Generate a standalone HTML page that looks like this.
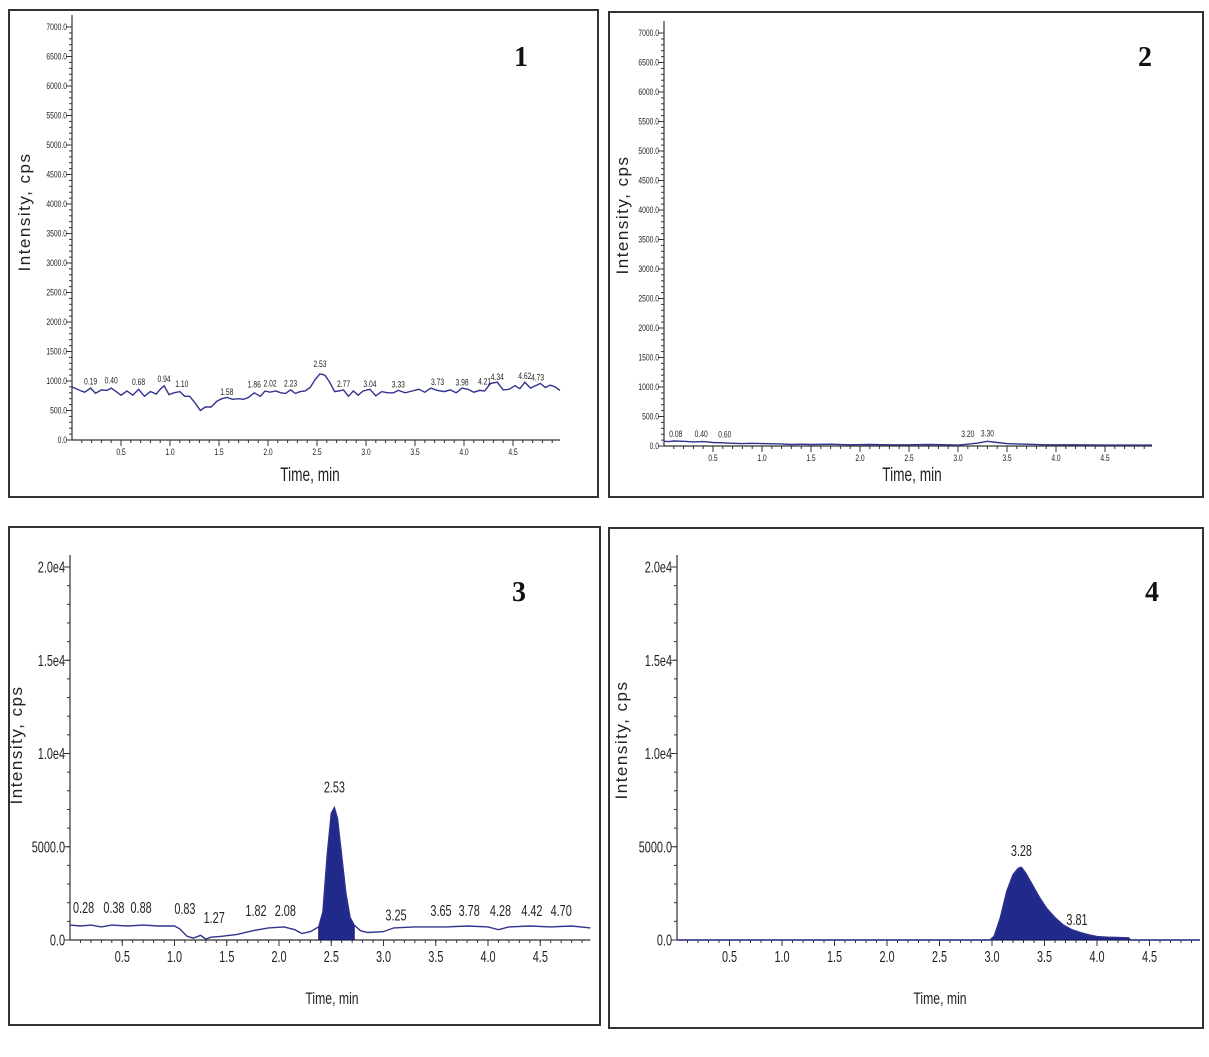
<!DOCTYPE html>
<html><head><meta charset="utf-8">
<style>
html,body{margin:0;padding:0;background:#fff;}
svg{display:block;}
text{font-family:"Liberation Sans",sans-serif;fill:#222;}
.num{font-family:"Liberation Serif",serif;font-weight:bold;fill:#111;}
</style></head>
<body>
<svg id="fig" width="1209" height="1057" viewBox="0 0 1209 1057" xmlns="http://www.w3.org/2000/svg"></svg>
<script>
// ---- Panel 1 data ----
const p1Times = [0,0.08,0.13,0.19,0.24,0.30,0.36,0.40,0.45,0.50,0.56,0.62,0.68,0.74,0.80,0.86,0.90,0.94,0.99,1.04,1.10,1.15,1.20,1.25,1.31,1.36,1.42,1.48,1.53,1.58,1.64,1.70,1.75,1.80,1.86,1.92,1.97,2.02,2.08,2.13,2.18,2.23,2.28,2.33,2.38,2.43,2.48,2.53,2.58,2.63,2.68,2.72,2.77,2.82,2.87,2.92,2.97,3.04,3.10,3.16,3.22,3.28,3.33,3.40,3.47,3.54,3.60,3.66,3.73,3.80,3.86,3.92,3.98,4.04,4.10,4.16,4.21,4.27,4.34,4.40,4.46,4.52,4.57,4.62,4.68,4.73,4.78,4.83,4.88,4.93,4.98];
const p1Values = [900,840,810,880,790,850,840,880,820,760,830,760,860,740,820,780,860,920,770,800,820,740,740,640,500,560,560,660,700,720,690,700,690,720,800,740,830,810,830,800,790,850,790,820,830,890,1020,1120,1100,980,820,830,850,740,830,760,830,860,750,820,800,800,840,800,830,860,810,880,840,820,850,800,880,860,810,840,830,960,980,850,860,920,870,980,880,920,960,890,930,900,840];
const p1Labels = ["0.19","0.40","0.68","0.94","1.10","1.58","1.86","2.02","2.23","2.53","2.77","3.04","3.33","3.73","3.98","4.21","4.34","4.62","4.73"];
const p1LabelT = [0.19,0.40,0.68,0.94,1.12,1.58,1.86,2.02,2.23,2.53,2.77,3.04,3.33,3.73,3.98,4.21,4.34,4.62,4.75];
const p1LabelV = [940,960,930,980,900,760,890,910,910,1240,900,900,890,930,920,940,1020,1030,1010];
const p1YTicks = [0,500,1000,1500,2000,2500,3000,3500,4000,4500,5000,5500,6000,6500,7000];
const p1YTickLabels = ["0.0","500.0","1000.0","1500.0","2000.0","2500.0","3000.0","3500.0","4000.0","4500.0","5000.0","5500.0","6000.0","6500.0","7000.0"];
// ---- Panel 2 data ----
const p2Times = [0,0.05,0.10,0.20,0.30,0.40,0.50,0.60,0.70,0.80,0.90,1.00,1.20,1.30,1.40,1.50,1.70,1.90,2.10,2.30,2.50,2.70,2.90,3.00,3.10,3.20,3.30,3.40,3.50,3.60,3.70,3.90,4.20,4.50,4.98];
const p2Values = [80,75,85,80,70,75,60,55,45,40,45,40,35,25,30,25,30,20,25,20,20,25,20,15,30,50,80,60,40,35,30,20,20,15,15];
const p2Labels = ["0.08","0.40","0.60","3.20","3.30"];
const p2LabelT = [0.12,0.38,0.62,3.10,3.30];
const p2LabelV = [150,150,140,150,160];
const p2YTicks = p1YTicks;
const p2YTickLabels = p1YTickLabels;
// ---- Panel 3 data ----
const p3Times = [0,0.10,0.20,0.30,0.40,0.55,0.70,0.85,1.00,1.05,1.12,1.18,1.25,1.30,1.35,1.45,1.60,1.75,1.90,2.05,2.15,2.22,2.30,2.38,2.42,2.46,2.50,2.53,2.56,2.60,2.64,2.68,2.72,2.78,2.85,3.00,3.10,3.30,3.60,3.80,4.00,4.10,4.20,4.40,4.60,4.80,4.98];
const p3Values = [800,750,800,700,800,750,800,750,750,600,200,100,250,50,150,200,300,500,650,700,550,350,450,700,1500,4500,6800,7100,6500,4500,2500,1200,800,500,400,450,650,700,700,750,700,550,700,750,700,750,650];
const p3Labels = ["0.28","0.38","0.88","0.83","1.27","1.82","2.08","2.53","3.25","3.65","3.78","4.28","4.42","4.70"];
const p3LabelT = [0.13,0.42,0.68,1.10,1.38,1.78,2.06,2.53,3.12,3.55,3.82,4.12,4.42,4.70];
const p3LabelV = [1450,1450,1450,1400,900,1300,1300,7900,1050,1300,1300,1300,1300,1300];
const p3YTicks = [0,5000,10000,15000,20000];
const p3YTickLabels = ["0.0","5000.0","1.0e4","1.5e4","2.0e4"];
// ---- Panel 4 data ----
const p4Times = [0,1.0,2.0,2.98,3.02,3.08,3.14,3.20,3.25,3.28,3.32,3.38,3.45,3.52,3.60,3.68,3.76,3.84,3.92,4.00,4.10,4.30,4.32,4.60,4.98];
const p4Values = [0,0,0,0,200,1200,2600,3500,3850,3900,3600,3000,2300,1700,1200,800,550,400,280,180,150,120,0,0,0];
const p4Labels = ["3.28","3.81"];
const p4LabelT = [3.28,3.81];
const p4LabelV = [4500,800];
const p4YTicks = p3YTicks;
const p4YTickLabels = p3YTickLabels;
const xTicks = [0.5,1.0,1.5,2.0,2.5,3.0,3.5,4.0,4.5];
const xTickLabels = ["0.5","1.0","1.5","2.0","2.5","3.0","3.5","4.0","4.5"];

const NS = "http://www.w3.org/2000/svg";
const svg = document.getElementById('fig');
function mk(tag, attrs, parent, txt){
  const e = document.createElementNS(NS, tag);
  for (const k in attrs) e.setAttribute(k, attrs[k]);
  if (txt !== undefined) e.textContent = txt;
  (parent||svg).appendChild(e);
  return e;
}
function ctext(parent, x, y, size, anchor, txt, sx){
  return mk('text', {x:0, y:0, 'font-size':size, 'text-anchor':anchor, transform:`translate(${x.toFixed(1)},${y.toFixed(1)}) scale(${sx},1)`}, parent, txt);
}

function panel(cfg){
  const g = mk('g', {});
  
  
  const fr = mk('rect', {x:cfg.box[0], y:cfg.box[1], width:cfg.box[2]-cfg.box[0], height:cfg.box[3]-cfg.box[1], fill:'none', stroke:'#333', 'stroke-width':2}, g);
  
  
  const X = t => cfg.x0 + t*cfg.pxMin;
  const Y = v => cfg.y0 - v/cfg.yMax*(cfg.y0-cfg.yTop);
  const xEnd = X(4.98);
  const ya = mk('line', {x1:cfg.x0, y1:cfg.yTop-12, x2:cfg.x0, y2:cfg.y0, stroke:'#333', 'stroke-width':1.2}, g);
  
  
  const xa = mk('line', {x1:cfg.x0, y1:cfg.y0, x2:xEnd, y2:cfg.y0, stroke:'#333', 'stroke-width':1.2}, g);
  
  
  for (let t=0.1; t<4.98; t+=0.1){
    mk('line', {x1:X(t), y1:cfg.y0, x2:X(t), y2:cfg.y0+3, stroke:'#333', 'stroke-width':1}, g);
  }
  for (let v=cfg.yMinor; v<=cfg.yMax+1; v+=cfg.yMinor){
    mk('line', {x1:cfg.x0-3, y1:Y(v), x2:cfg.x0, y2:Y(v), stroke:'#333', 'stroke-width':1}, g);
  }
  xTicks.forEach((t,i)=>{
    mk('line', {x1:X(t), y1:cfg.y0, x2:X(t), y2:cfg.y0+6, stroke:'#333', 'stroke-width':1}, g);
    const l = ctext(g, X(t), cfg.y0+cfg.fs+6, cfg.fs, 'middle', xTickLabels[i], cfg.sx);
    
    
  });
  cfg.yTicks.forEach((v,i)=>{
    mk('line', {x1:cfg.x0-6, y1:Y(v), x2:cfg.x0, y2:Y(v), stroke:'#333', 'stroke-width':1}, g);
    const l = ctext(g, cfg.x0-5, Y(v)+cfg.fs*0.35, cfg.fs, 'end', cfg.yTickLabels[i], cfg.sx);
    
    
  });
  let d = '';
  cfg.times.forEach((t,i)=>{ d += (i?'L':'M') + X(t).toFixed(1) + ',' + Y(cfg.values[i]).toFixed(1); });
  if (cfg.fill){
    const [a,b] = cfg.fill;
    let fd = 'M'+X(a)+','+cfg.y0;
    cfg.times.forEach((t,i)=>{ if(t>=a && t<=b) fd += 'L'+X(t).toFixed(1)+','+Y(cfg.values[i]).toFixed(1); });
    fd += 'L'+X(b)+','+cfg.y0+'Z';
    const f = mk('path', {d:fd, fill:'#1f2a8a', stroke:'#1a1a5a', 'stroke-width':1}, g);
    
    
  }
  const p = mk('path', {d:d, fill:'none', stroke:'#33338f', 'stroke-width':1.4}, g);
  
  
  cfg.labels.forEach((s,i)=>{
    const l = ctext(g, X(cfg.labelT[i]), Y(cfg.labelV[i]), cfg.lfs, 'middle', s, cfg.sx);
    
    
  });
  const yt = mk('text', {x:cfg.ytitle[0], y:cfg.ytitle[1], 'font-size':17, 'text-anchor':'middle', 'letter-spacing':'1.5', transform:`rotate(-90 ${cfg.ytitle[0]} ${cfg.ytitle[1]})`}, g, 'Intensity, cps');
  
  
  const xt = ctext(g, cfg.xtitle[0], cfg.xtitle[1], cfg.xfs, 'middle', 'Time, min', 0.72);
  
  
  const n = mk('text', {x:cfg.num[0], y:cfg.num[1], 'font-size':28, 'text-anchor':'middle', class:'num'}, g, cfg.numText);
  
  
}

panel({name:'panel-1', box:[9,10,598,497], x0:72, pxMin:98, y0:440, yTop:27, yMax:7000, yMinor:100, yTicks:p1YTicks, yTickLabels:p1YTickLabels, fs:9, lfs:9, sx:0.75, xfs:19,
  times:p1Times, values:p1Values, labels:p1Labels, labelT:p1LabelT, labelV:p1LabelV, ytitle:[30,212], xtitle:[310,481], num:[521,66], numText:'1'});
panel({name:'panel-2', box:[609,12,1203,497], x0:664, pxMin:98, y0:446, yTop:33, yMax:7000, yMinor:100, yTicks:p2YTicks, yTickLabels:p2YTickLabels, fs:9, lfs:9, sx:0.75, xfs:19,
  times:p2Times, values:p2Values, labels:p2Labels, labelT:p2LabelT, labelV:p2LabelV, ytitle:[628,215], xtitle:[912,481], num:[1145,66], numText:'2'});
panel({name:'panel-3', box:[9,527,600,1025], x0:70, pxMin:104.5, y0:940, yTop:567, yMax:20000, yMinor:1000, yTicks:p3YTicks, yTickLabels:p3YTickLabels, fs:16, lfs:16, sx:0.68, xfs:17,
  times:p3Times, values:p3Values, labels:p3Labels, labelT:p3LabelT, labelV:p3LabelV, ytitle:[22,745], xtitle:[332,1004], num:[519,601], numText:'3', fill:[2.38,2.72]});
panel({name:'panel-4', box:[609,528,1203,1028], x0:677, pxMin:105, y0:940, yTop:567, yMax:20000, yMinor:1000, yTicks:p4YTicks, yTickLabels:p4YTickLabels, fs:16, lfs:16, sx:0.68, xfs:17,
  times:p4Times, values:p4Values, labels:p4Labels, labelT:p4LabelT, labelV:p4LabelV, ytitle:[627,740], xtitle:[940,1004], num:[1152,601], numText:'4', fill:[2.98,4.32]});
</script>
</body></html>
